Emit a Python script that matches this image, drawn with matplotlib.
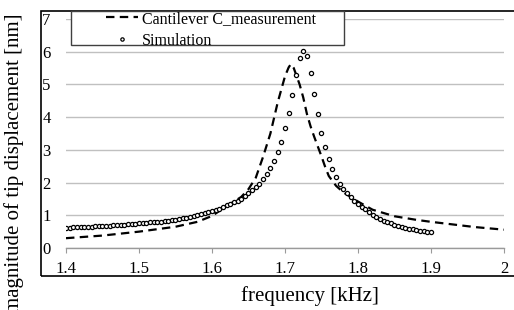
#Resonance curve of cantilever tip: measurement vs simulation
import numpy as np
import matplotlib
matplotlib.use('Agg')
import matplotlib.pyplot as plt
from matplotlib.patches import Rectangle

plt.rcParams['font.family'] = ['Liberation Serif', 'DejaVu Serif']

#Data
#measured curve (kHz, nm)
meas_freq = [1.40, 1.45, 1.50, 1.55, 1.58, 1.60, 1.62, 1.63, 1.64, 1.65, 1.66, 1.67,
             1.68, 1.69, 1.70, 1.705, 1.708, 1.712, 1.716, 1.72, 1.725, 1.73, 1.735,
             1.74, 1.745, 1.75, 1.755, 1.76, 1.77, 1.78, 1.80, 1.82, 1.85, 1.88,
             1.90, 1.93, 1.96, 2.00]
meas_amp = [0.30, 0.38, 0.50, 0.65, 0.80, 0.98, 1.28, 1.42, 1.56, 1.80, 2.15, 2.79,
            3.50, 4.45, 5.25, 5.52, 5.62, 5.50, 5.25, 5.00, 4.60, 4.10, 3.72,
            3.40, 3.10, 2.80, 2.48, 2.20, 1.90, 1.70, 1.42, 1.17, 0.97, 0.86,
            0.80, 0.72, 0.64, 0.56]

#simulation, 0.005 kHz steps from 1.400 to 1.900
sim_freq = np.round(np.arange(1.400, 1.9001, 0.005), 3)
sim_amp = [0.62, 0.625, 0.63, 0.635, 0.64, 0.645, 0.65, 0.655, 0.66, 0.665,
           0.67, 0.68, 0.685, 0.69, 0.70, 0.705, 0.71, 0.72, 0.73, 0.74,
           0.75, 0.76, 0.77, 0.78, 0.79, 0.80, 0.81, 0.82, 0.84, 0.85,
           0.87, 0.89, 0.91, 0.93, 0.95, 0.98, 1.01, 1.04, 1.07, 1.10,
           1.12, 1.16, 1.20, 1.25, 1.30, 1.35, 1.40, 1.45, 1.50, 1.59,
           1.68, 1.76, 1.86, 1.97, 2.10, 2.26, 2.44, 2.66, 2.94, 3.25,
           3.66, 4.14, 4.68, 5.29, 5.80, 6.03, 5.87, 5.36, 4.71, 4.09,
           3.53, 3.08, 2.72, 2.42, 2.16, 1.96, 1.80, 1.67, 1.55, 1.44,
           1.34, 1.26, 1.18, 1.10, 1.02, 0.95, 0.89, 0.84, 0.79, 0.75,
           0.71, 0.67, 0.64, 0.61, 0.59, 0.57, 0.55, 0.53, 0.51, 0.49,
           0.48]

x_ticks = [1.4, 1.5, 1.6, 1.7, 1.8, 1.9, 2.0]
x_ticklabels = ['1.4', '1.5', '1.6', '1.7', '1.8', '1.9', '2']
y_ticks = [0, 1, 2, 3, 4, 5, 6, 7]

W, H = 514, 310
fig = plt.figure(figsize=(W/100, H/100), dpi=100)
ax = fig.add_axes([66/W, 1-248/H, (504-66)/W, (248-19)/H])

ax.plot(meas_freq, meas_amp, color='black', lw=1.6, dashes=(3.8, 2.4),
        label='Cantilever C_measurement', zorder=3)
ax.plot(sim_freq, sim_amp, linestyle='none', marker='o', ms=3.0, mew=0.9,
        mfc='white', mec='black', label='Simulation', zorder=4)

ax.set_xlim(1.4, 2.0)
ax.set_ylim(0, 7)
ax.set_xticks(x_ticks)
ax.set_xticklabels(x_ticklabels)
ax.set_yticks(y_ticks)
ax.grid(True, axis='y', color='#c0c0c0', lw=1.0)
ax.set_axisbelow(True)
for s in ['top', 'left', 'right']:
    ax.spines[s].set_visible(False)
ax.spines['bottom'].set_color('#9a9a9a')
ax.spines['bottom'].set_linewidth(1.0)
ax.tick_params(axis='x', direction='out', length=3.5, color='#9a9a9a', pad=6, labelsize=12)
ax.tick_params(axis='y', length=0, pad=11, labelsize=12)

#chart area border
ax.add_patch(Rectangle((41/W, 1-276/H), 1.2, (276-11)/H, transform=fig.transFigure,
                       fill=False, edgecolor='black', lw=1.2, clip_on=False, zorder=5))
#legend box
ax.add_patch(Rectangle((71/W, 1-45/H), (344-71)/W, (45-11)/H, transform=fig.transFigure,
                       facecolor='white', edgecolor='#404040', lw=1.0, clip_on=False, zorder=5))
leg = ax.legend(loc='upper left', bbox_to_anchor=(106/W, 1-11/H), bbox_transform=fig.transFigure,
                frameon=False, fontsize=11.5, borderpad=0, borderaxespad=0,
                handlelength=2.0, handletextpad=0.25, labelspacing=0.35, markerscale=0.8)
leg.set_zorder(6)

fig.text(310/W, 1-296/H, 'frequency [kHz]', ha='center', va='center', fontsize=15)
fig.text(14/W, 1-163/H, 'magnitude of tip displacement [nm]', ha='center', va='center',
         rotation=90, fontsize=15)

fig.savefig('out.png', dpi=100)
